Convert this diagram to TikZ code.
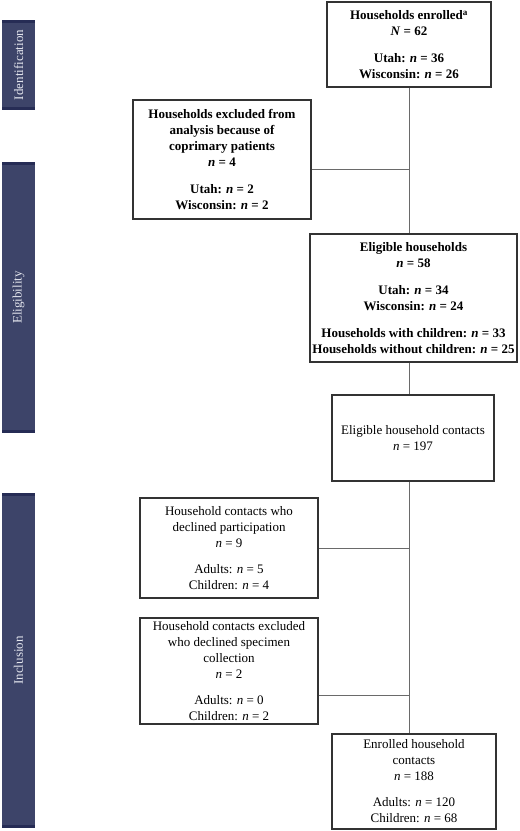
\documentclass[tikz,border=0pt]{standalone}
\usepackage{fontspec}
\setmainfont{Liberation Serif}
\definecolor{boxline}{HTML}{333333}
\definecolor{linkgray}{HTML}{6A6A6A}
\definecolor{barblue}{HTML}{3D4469}
\definecolor{bardark}{HTML}{262C55}
\definecolor{bartxt}{HTML}{E4E6EE}
\begin{document}
\begin{tikzpicture}[x=1pt,y=-1pt,
  box/.style={draw=boxline, line width=1.3pt, align=center, inner sep=0pt, fill=white,
    font=\fontsize{13}{16}\selectfont},
  boldbox/.style={box, font=\fontsize{13}{16}\selectfont\bfseries},
  link/.style={draw=linkgray, line width=0.9pt},
  bartext/.style={text=bartxt, rotate=90, font=\fontsize{13}{16}\selectfont}]
\useasboundingbox (0,0) rectangle (520,831);
% sidebars
\fill[barblue] (2,20) rectangle (35,110);
\fill[bardark] (2,20) rectangle (35,23);
\fill[bardark] (2,107) rectangle (35,110);
\node[bartext] (sid) at (18.5,65) {Identification};
\fill[barblue] (2,162) rectangle (35,433);
\fill[bardark] (2,162) rectangle (35,165);
\fill[bardark] (2,430) rectangle (35,433);
\node[bartext] (sel) at (18.5,297.5) {Eligibility};
\fill[barblue] (2,493) rectangle (35,828);
\fill[bardark] (2,493) rectangle (35,496);
\fill[bardark] (2,825) rectangle (35,828);
\node[bartext] (sin) at (18.5,660.5) {Inclusion};
% boxes
\node[boldbox, minimum width=164pt, minimum height=85pt] (b1) at (409,44.5)
  {Households enrolled\textsuperscript{a}\\ \textit{N} = 62\\[11pt] Utah: \textit{n} = 36\\ Wisconsin: \textit{n} = 26};
\node[boldbox, minimum width=178pt, minimum height=119pt] (b2) at (222,159.5)
  {Households excluded from\\ analysis because of\\ coprimary patients\\ \textit{n} = 4\\[11pt] Utah: \textit{n} = 2\\ Wisconsin: \textit{n} = 2};
\node[boldbox, minimum width=207pt, minimum height=128pt] (b3) at (413.5,298)
  {Eligible households\\ \textit{n} = 58\\[11pt] Utah: \textit{n} = 34\\ Wisconsin: \textit{n} = 24\\[11pt] Households with children: \textit{n} = 33\\ Households without children: \textit{n} = 25};
\node[box, minimum width=162pt, minimum height=86pt] (b4) at (413,438)
  {Eligible household contacts\\ \textit{n} = 197};
\node[box, minimum width=178pt, minimum height=100pt] (b5) at (229,548)
  {Household contacts who\\ declined participation\\ \textit{n} = 9\\[10pt] Adults: \textit{n} = 5\\ Children: \textit{n} = 4};
\node[box, minimum width=178pt, minimum height=106pt] (b6) at (229,671)
  {Household contacts excluded\\ who declined specimen\\ collection\\ \textit{n} = 2\\[10pt] Adults: \textit{n} = 0\\ Children: \textit{n} = 2};
\node[box, minimum width=164pt, minimum height=95pt] (b7) at (414,781.5)
  {Enrolled household\\ contacts\\ \textit{n} = 188\\[10pt] Adults: \textit{n} = 120\\ Children: \textit{n} = 68};
% connectors
\coordinate (t) at (409.5,0);
\coordinate (j1) at (409.5,169);
\coordinate (j3) at (409.5,695);
\draw[link] (b1.south -| t) -- (b3.north -| t);
\draw[link] (j1 -| b2.east) -- (j1);
\draw[link] (b3.south -| t) -- (b4.north -| t);
\draw[link] (b4.south -| t) -- (b7.north -| t);
\draw[link] (b5.east) -- (b5.east -| t);
\draw[link] (j3 -| b6.east) -- (j3);
\end{tikzpicture}
\end{document}
